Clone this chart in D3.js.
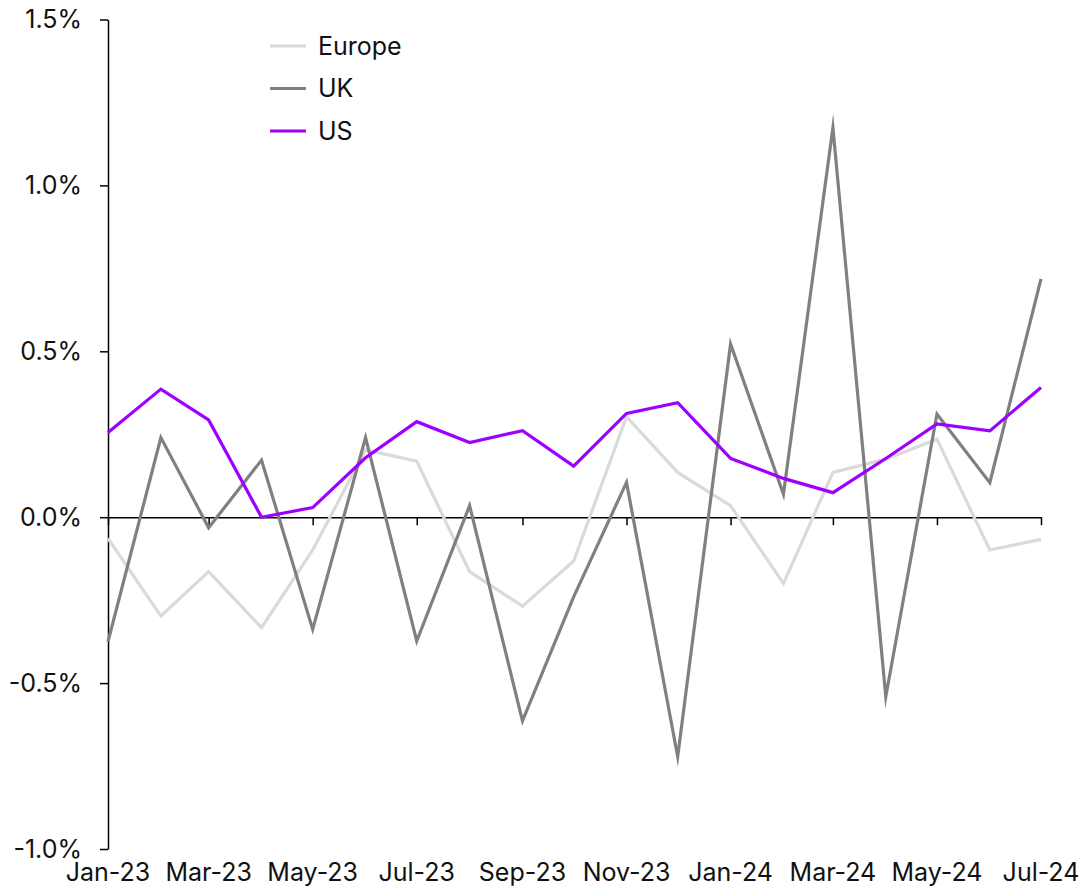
<!DOCTYPE html>
<html>
<head>
<meta charset="utf-8">
<script src="https://cdn.jsdelivr.net/npm/d3@7"></script>
<style>
  html, body { margin: 0; padding: 0; background: #fff; }
  svg text { font-family: Inter, "Noto Sans", sans-serif; fill: #111; }
</style>
</head>
<body>
<svg id="chart" width="1084" height="893"></svg>
<script>
// ---- data ----
const months = ["2023-01","2023-02","2023-03","2023-04","2023-05","2023-06","2023-07","2023-08","2023-09","2023-10","2023-11","2023-12","2024-01","2024-02","2024-03","2024-04","2024-05","2024-06","2024-07"];
const europe = [-0.064,-0.298,-0.164,-0.333,-0.099,0.203,0.169,-0.164,-0.268,-0.132,0.303,0.135,0.035,-0.200,0.135,0.175,0.235,-0.099,-0.067];
const uk     = [-0.375,0.240,-0.032,0.172,-0.338,0.240,-0.373,0.035,-0.614,-0.240,0.105,-0.722,0.522,0.069,1.174,-0.541,0.311,0.104,0.718];
const us     = [0.255,0.386,0.293,0.000,0.029,0.179,0.288,0.225,0.261,0.154,0.313,0.345,0.177,0.117,0.074,0.177,0.281,0.260,0.391];
const yTicks = [-1.0,-0.5,0.0,0.5,1.0,1.5];
const yTickLabels = ["-1.0%","-0.5%","0.0%","0.5%","1.0%","1.5%"];
const xTickLabels = ["Jan-23","Mar-23","May-23","Jul-23","Sep-23","Nov-23","Jan-24","Mar-24","May-24","Jul-24"];
const seriesNames = ["Europe","UK","US"];
const seriesColors = ["#dadada","#808080","#9d00ff"];

// ---- build ----
const parse = d3.timeParse("%Y-%m");
const dates = months.map(parse);
const series = [europe, uk, us].map((vals, i) => ({
  name: seriesNames[i], color: seriesColors[i],
  values: vals.map((v, j) => ({date: dates[j], value: v}))
}));

const svg = d3.select("#chart");
const x = d3.scaleTime().domain([dates[0], dates[dates.length-1]]).range([108, 1041]);
const y = d3.scaleLinear().domain([-1.0, 1.5]).range([849, 19.5]);

// y axis
const yAxis = d3.axisLeft(y).tickValues(yTicks).tickSize(8).tickSizeOuter(0).tickPadding(18)
  .tickFormat((d, i) => yTickLabels[i]);
const gy = svg.append("g").attr("transform", "translate(108,0)").call(yAxis);
gy.select(".domain").attr("stroke", "#000").attr("stroke-width", 1.5);
gy.selectAll(".tick line").attr("stroke", "#000").attr("stroke-width", 1.5);
gy.selectAll(".tick text").style("font-size", "25px").attr("fill", "#111");

// x axis at zero
const tickDates = d3.timeMonth.every(2).range(dates[0], d3.timeMonth.offset(dates[dates.length-1], 1));
const xAxis = d3.axisBottom(x).tickValues(tickDates).tickSize(8).tickSizeOuter(0).tickFormat("");
const gx = svg.append("g").attr("transform", `translate(0,${y(0)})`).call(xAxis);
gx.select(".domain").attr("stroke", "#000").attr("stroke-width", 1.5);
gx.selectAll(".tick line").attr("stroke", "#000").attr("stroke-width", 1.5);

// x labels at bottom
svg.append("g").selectAll("text").data(tickDates).join("text")
  .attr("x", d => x(d)).attr("y", 881)
  .attr("text-anchor", "middle").style("font-size", "25px")
  .text((d, i) => xTickLabels[i]);

// lines
const line = d3.line().x(d => x(d.date)).y(d => y(d.value));
svg.append("g").selectAll("path").data(series).join("path")
  .attr("d", d => line(d.values))
  .attr("fill", "none")
  .attr("stroke", d => d.color)
  .attr("stroke-width", 3.2)
  .attr("stroke-linejoin", "miter")
  .attr("stroke-miterlimit", 10);

// legend
const leg = svg.append("g").selectAll("g").data(series).join("g")
  .attr("transform", (d, i) => `translate(270,${46 + i*42.5})`);
leg.append("line").attr("x1", 0).attr("x2", 36).attr("y1", 0).attr("y2", 0)
  .attr("stroke", d => d.color).attr("stroke-width", 3.2);
leg.append("text").attr("x", 48).attr("y", 0).attr("dy", "0.35em")
  .style("font-size", "25px").text(d => d.name);
</script>
</body>
</html>
